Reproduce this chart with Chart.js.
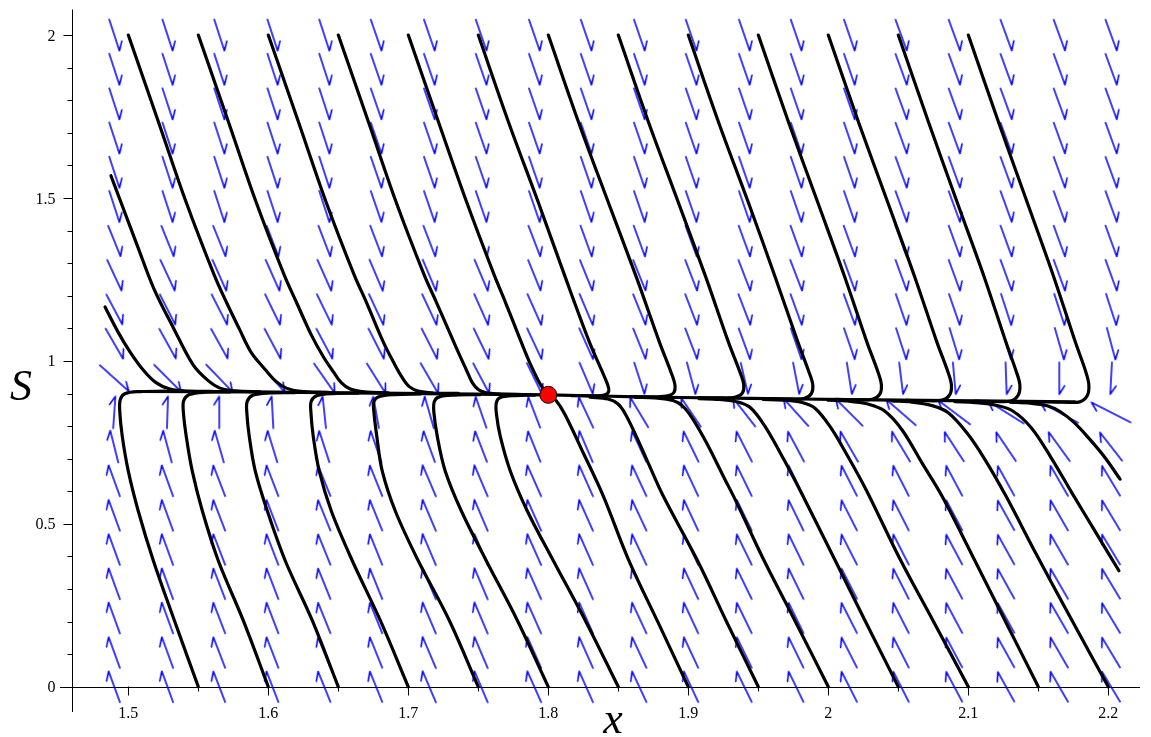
<!DOCTYPE html>
<html>
<head>
<meta charset="utf-8">
<script src="https://cdn.jsdelivr.net/npm/chart.js@4.4.1/dist/chart.umd.min.js"></script>
<style>
  html, body { margin: 0; padding: 0; background: #fff; }
  canvas { display: block; }
</style>
</head>
<body>
<canvas id="plot" width="1151" height="737"></canvas>
<script>
// axis ticks
const xMajorTicks = [1.5, 1.6, 1.7, 1.8, 1.9, 2.0, 2.1, 2.2];
const xTickLabels = ["1.5", "1.6", "1.7", "1.8", "1.9", "2", "2.1", "2.2"];
const xMinorTicks = [1.55, 1.65, 1.75, 1.85, 1.95, 2.05, 2.15];
const yMajorTicks = [0, 0.5, 1, 1.5, 2];
const yTickLabels = ["0", "0.5", "1", "1.5", "2"];
const yMinorTicks = [0.1, 0.2, 0.3, 0.4, 0.6, 0.7, 0.8, 0.9, 1.1, 1.2, 1.3, 1.4, 1.6, 1.7, 1.8, 1.9];
const yAxisAtX = 1.46;

// direction field grid
const arrowX = [1.490, 1.528, 1.565, 1.603, 1.640, 1.677, 1.715, 1.752, 1.790, 1.827,
                1.865, 1.902, 1.940, 1.977, 2.015, 2.052, 2.090, 2.127, 2.165, 2.202];
const arrowS = [0, 0.105, 0.211, 0.316, 0.421, 0.526, 0.632, 0.737, 0.842, 0.947,
                1.053, 1.158, 1.263, 1.368, 1.474, 1.579, 1.684, 1.789, 1.895, 2];
// arrow headings on screen, degrees (clockwise from +x)
const angleRows0to6 = [-110,-110,-111,-111,-112,-112,-113,-113,-114,-114,-115,-115,-116,-116,-117,-117,-118,-119,-120,-121];
const angleRow7 = [-104,-105,-106,-107,-108,-109,-110,-111,-112,-113,-115,-116,-117,-118,-120,-121,-123,-124,-126,-128];
const angleRow8 = [-86,-88,-90,-93,-96,-100,-106,-109,-111,-115,-121,-124,-128,-132,-135,-139,-143,-148,-151,-153];
const angleRow9 = [42,45,46,49,55,58,60,62,64,67,72,75,77,79,81,83,85,88,90,93];
const angleRow10 = [60,61,61,62,62,63,63,64,65,66,68,69,70,71,71,72,73,73,74,75];
const angleRow11 = [62,63,63,64,64,65,65,66,66,67,68,69,69,70,70,71,71,72,72,72];
const angleRow12 = [65,65,66,66,66,67,67,67,68,68,68,69,69,69,70,70,70,70,70,70];
const angleRow13 = [68,68,68,69,69,69,69,69,69,70,70,70,70,70,70,70,70,70,70,70];
const angleRows14to19 = [72,72,72,72,72,71,71,71,71,71,71,71,71,71,71,70,70,70,70,70];

// equilibrium
const eqX = 1.8;
const eqS = 0.896;

// slow line through the equilibrium
const lineLeft = [[1.5084,0.9062],[1.5869,0.905],[1.6584,0.9023],[1.7298,0.8989],[1.8,0.8959]];
const lineRight = [[1.8,0.8959],[1.8726,0.8892],[1.9441,0.8852],[2.0155,0.8815],[2.0869,0.8785],[2.1584,0.8754],[2.1762,0.8742]];

// trajectories coming down from above
const upperLeftA = [[1.4834,1.1655],[1.4926,1.0892],[1.5012,1.0281],[1.5105,0.9731],[1.5198,0.9334],[1.5298,0.9136],[1.5441,0.9072],[1.5619,0.9063]];
const upperLeftB = [[1.4876,1.5685],[1.4948,1.4861],[1.5069,1.3487],[1.5184,1.2205],[1.5326,1.0983],[1.5462,0.9884],[1.5562,0.9426],[1.5655,0.9166],[1.5769,0.9081],[1.5941,0.9053]];
const upper150 = [[1.5,2],[1.5218,1.7304],[1.5414,1.4861],[1.5614,1.2632],[1.57,1.1808],[1.5793,1.0983],[1.5875,1.0281],[1.5979,0.9731],[1.6057,0.9365],[1.6129,0.9166],[1.6229,0.9066],[1.6429,0.9035]];
const upper155 = [[1.55,2],[1.5718,1.7304],[1.5914,1.4861],[1.6114,1.2632],[1.62,1.1808],[1.6307,1.08],[1.6393,1.0128],[1.6464,0.967],[1.6521,0.9334],[1.6586,0.9136],[1.6686,0.905],[1.6857,0.9023]];
const upper160 = [[1.6,2],[1.6218,1.7304],[1.6414,1.4861],[1.6614,1.2632],[1.67,1.1808],[1.6821,1.0586],[1.69,0.9915],[1.6957,0.9487],[1.7007,0.9212],[1.7071,0.9075],[1.7179,0.9017],[1.7357,0.9002]];
const upper165 = [[1.65,2],[1.6718,1.7304],[1.6914,1.4861],[1.7114,1.2632],[1.72,1.1808],[1.7343,1.0403],[1.7414,0.9731],[1.7457,0.9334],[1.75,0.9121],[1.755,0.9029],[1.7643,0.8989],[1.7821,0.8971]];
const upper170 = [[1.7,2],[1.7218,1.7304],[1.7418,1.4861],[1.7614,1.2632],[1.7693,1.1808],[1.7786,1.08],[1.7864,0.9976],[1.7925,0.9426],[1.7968,0.9121],[1.8,0.8959]];
const upper175 = [[1.75,2],[1.7718,1.7304],[1.7929,1.4861],[1.8121,1.2571],[1.8293,1.0586],[1.8379,0.9731],[1.8421,0.9304],[1.8432,0.9075],[1.84,0.8953],[1.8307,0.8931],[1.8164,0.8937]];
const upper180 = [[1.8,2],[1.8218,1.7304],[1.8429,1.4861],[1.8629,1.2571],[1.8793,1.0586],[1.8875,0.967],[1.8904,0.9273],[1.8896,0.9029],[1.8843,0.8922],[1.8729,0.8895],[1.8586,0.8905]];
const upper185 = [[1.85,2],[1.8718,1.7304],[1.8929,1.4861],[1.9125,1.2571],[1.9286,1.0586],[1.9368,0.967],[1.9396,0.9273],[1.9386,0.9014],[1.9332,0.8885],[1.9218,0.8865],[1.9075,0.8873]];
const upper190 = [[1.9,2],[1.9218,1.7304],[1.9429,1.4861],[1.9621,1.2571],[1.9782,1.0586],[1.9861,0.967],[1.9889,0.9273],[1.9879,0.8998],[1.9825,0.8845],[1.9711,0.8831],[1.9568,0.8846]];
const upper195 = [[1.95,2],[1.9718,1.7304],[1.9925,1.4861],[2.0118,1.2571],[2.0275,1.0586],[2.0354,0.967],[2.0379,0.9273],[2.0368,0.8983],[2.0314,0.8825],[2.0196,0.8808],[2.0054,0.8818]];
const upper200 = [[2.0,2],[2.0218,1.7304],[2.0425,1.4861],[2.0618,1.2571],[2.0775,1.0586],[2.0854,0.967],[2.0879,0.9273],[2.0868,0.8968],[2.0814,0.88],[2.0696,0.8782],[2.0554,0.8791]];
const upper205 = [[2.05,2],[2.0718,1.7304],[2.0921,1.4861],[2.1114,1.2571],[2.1268,1.0586],[2.1343,0.967],[2.1368,0.9273],[2.1357,0.8953],[2.1304,0.8769],[2.1189,0.8756],[2.1046,0.8765]];
const upper210 = [[2.1,2],[2.1218,1.7304],[2.1421,1.4861],[2.1611,1.2571],[2.1764,1.0586],[2.1839,0.967],[2.1861,0.9273],[2.185,0.8937],[2.1796,0.8745],[2.1682,0.8738],[2.1539,0.8748]];

// trajectories rising from below
const lower155 = [[1.55,0],[1.5329,0.2037],[1.5179,0.3869],[1.5071,0.5396],[1.5,0.6617],[1.4957,0.7685],[1.4939,0.8449],[1.4943,0.8815],[1.4979,0.8998],[1.5084,0.906],[1.5262,0.9072]];
const lower160 = [[1.6,0],[1.5821,0.2037],[1.5643,0.3869],[1.5529,0.5396],[1.5457,0.6617],[1.5414,0.7685],[1.5393,0.8449],[1.5396,0.8785],[1.5436,0.8968],[1.5548,0.9041],[1.5726,0.9047]];
const lower165 = [[1.65,0],[1.6314,0.2037],[1.6121,0.3869],[1.5993,0.5396],[1.5907,0.6617],[1.5864,0.7685],[1.5846,0.8449],[1.585,0.8769],[1.5893,0.8953],[1.6012,0.902],[1.6191,0.9029]];
const lower170 = [[1.7,0],[1.68,0.2037],[1.66,0.3869],[1.645,0.5396],[1.6364,0.6617],[1.6321,0.7685],[1.6304,0.8449],[1.6307,0.8769],[1.635,0.8937],[1.6462,0.8998],[1.6641,0.9011]];
const lower175 = [[1.75,0],[1.7293,0.2037],[1.7071,0.3869],[1.6907,0.5396],[1.6814,0.6617],[1.6775,0.7685],[1.6754,0.8449],[1.6754,0.8754],[1.6793,0.8907],[1.6905,0.8968],[1.7084,0.8986]];
const lower180 = [[1.8,0],[1.7779,0.2037],[1.7557,0.3869],[1.7379,0.5396],[1.7264,0.6617],[1.7207,0.7685],[1.7182,0.8449],[1.7186,0.8754],[1.7221,0.8898],[1.7334,0.8953],[1.7512,0.8965]];
const lower185 = [[1.85,0],[1.8264,0.2037],[1.8036,0.3869],[1.785,0.5396],[1.7729,0.6617],[1.7657,0.7685],[1.7629,0.8388],[1.7629,0.8724],[1.7657,0.8876],[1.7762,0.8937],[1.7905,0.8953]];
const lower190 = [[1.9,0],[1.8784,0.1976],[1.8571,0.3921],[1.8393,0.5853],[1.825,0.7176],[1.8119,0.8357],[1.8055,0.8785],[1.8,0.8959]];
const lower195 = [[1.95,0],[1.9276,0.1976],[1.906,0.3921],[1.8821,0.5853],[1.8703,0.6974],[1.8612,0.7838],[1.8548,0.8388],[1.8498,0.8678],[1.8426,0.8831],[1.8298,0.8892]];
const lower200 = [[2.0,0],[1.9768,0.1976],[1.9536,0.3921],[1.9346,0.5649],[1.925,0.6464],[1.9131,0.7481],[1.9036,0.8195],[1.8964,0.8601],[1.8891,0.8785],[1.8762,0.8867],[1.8619,0.8889]];
const lower205 = [[2.05,0],[2.0269,0.1976],[2.0044,0.3921],[1.9819,0.5853],[1.9683,0.6974],[1.9548,0.7991],[1.9448,0.855],[1.9355,0.8739],[1.9219,0.8818],[1.9076,0.8843]];
const lower210 = [[2.1,0],[2.0755,0.1976],[2.0512,0.3921],[2.0269,0.6058],[2.0126,0.7176],[2.0012,0.7991],[1.9905,0.855],[1.9812,0.8724],[1.9676,0.88],[1.9534,0.8821]];
const lower215 = [[2.15,0],[2.1269,0.1976],[2.1041,0.3921],[2.0812,0.5853],[2.0669,0.687],[2.0526,0.789],[2.0398,0.8479],[2.0283,0.8678],[2.0141,0.877],[1.9998,0.8794]];
const lower220 = [[2.2,0],[2.1741,0.2037],[2.1484,0.4082],[2.1269,0.5853],[2.1119,0.6974],[2.0991,0.7786],[2.0855,0.8418],[2.074,0.8632],[2.0598,0.8739],[2.0455,0.8773]];
const lowerEdgeA = [[2.2076,0.3563],[2.1891,0.4876],[2.1741,0.5945],[2.159,0.7044],[2.1448,0.796],[2.1312,0.8479],[2.119,0.8647],[2.1048,0.8724],[2.0905,0.8748]];
const lowerEdgeB = [[2.2084,0.6373],[2.1969,0.7075],[2.1862,0.7624],[2.1755,0.8113],[2.1655,0.8449],[2.1569,0.8617],[2.144,0.8708],[2.1298,0.8739]];

const trajectories = [
  lineLeft, lineRight,
  upperLeftA, upperLeftB, upper150, upper155, upper160, upper165, upper170,
  upper175, upper180, upper185, upper190, upper195, upper200, upper205, upper210,
  lower155, lower160, lower165, lower170, lower175, lower180, lower185, lower190,
  lower195, lower200, lower205, lower210, lower215, lower220, lowerEdgeA, lowerEdgeB,
];

const angleTable = [
  angleRows0to6, angleRows0to6, angleRows0to6, angleRows0to6, angleRows0to6, angleRows0to6, angleRows0to6,
  angleRow7, angleRow8, angleRow9, angleRow10, angleRow11, angleRow12, angleRow13,
  angleRows14to19, angleRows14to19, angleRows14to19, angleRows14to19, angleRows14to19, angleRows14to19,
];

const arrowPoints = [];
arrowS.forEach((s, r) => {
  arrowX.forEach((x, c) => arrowPoints.push({ x, y: s, a: angleTable[r][c] }));
});

// arrows keep a fixed length in the plot's normalised box, so wide ones are longer on screen
function arrowLength(deg) {
  const t = (deg * Math.PI) / 180;
  const k = 0.646;
  return 32 / Math.sqrt(Math.cos(t) ** 2 * k * k + Math.sin(t) ** 2);
}

const arrowCache = new Map();
function arrowImage(len) {
  const key = Math.round(len);
  if (arrowCache.has(key)) return arrowCache.get(key);
  const size = key + 12 + (key % 2);
  const c = document.createElement("canvas");
  c.width = size;
  c.height = size;
  const g = c.getContext("2d");
  const mid = size / 2;
  const half = key / 2;
  const barb = Math.PI + (32 * Math.PI) / 180;
  g.strokeStyle = "#0000ff";
  g.lineWidth = 1.5;
  g.lineCap = "round";
  g.beginPath();
  g.moveTo(mid - half, mid);
  g.lineTo(mid + half, mid);
  g.moveTo(mid + half, mid);
  g.lineTo(mid + half + 10 * Math.cos(barb), mid + 10 * Math.sin(barb));
  g.stroke();
  arrowCache.set(key, c);
  return c;
}

const axesPlugin = {
  id: "plainAxes",
  beforeDatasetsDraw(chart) {
    const { ctx, chartArea } = chart;
    const xs = chart.scales.x;
    const ys = chart.scales.y;
    const x0 = Math.round(xs.getPixelForValue(yAxisAtX)) + 0.5;
    const y0 = Math.round(ys.getPixelForValue(0)) + 0.5;
    ctx.save();
    ctx.strokeStyle = "#000";
    ctx.lineWidth = 1;
    ctx.beginPath();
    ctx.moveTo(chartArea.left, y0);
    ctx.lineTo(chartArea.right, y0);
    ctx.moveTo(x0, chartArea.top);
    ctx.lineTo(x0, chartArea.bottom);
    for (const v of xMinorTicks) {
      const px = Math.round(xs.getPixelForValue(v)) + 0.5;
      ctx.moveTo(px, y0);
      ctx.lineTo(px, y0 + 4);
    }
    for (const v of xMajorTicks) {
      const px = Math.round(xs.getPixelForValue(v)) + 0.5;
      ctx.moveTo(px, y0 - 1);
      ctx.lineTo(px, y0 + 8);
    }
    for (const v of yMinorTicks) {
      const py = Math.round(ys.getPixelForValue(v)) + 0.5;
      ctx.moveTo(x0 - 5, py);
      ctx.lineTo(x0, py);
    }
    for (const v of yMajorTicks) {
      const py = Math.round(ys.getPixelForValue(v)) + 0.5;
      ctx.moveTo(x0 - 9, py);
      ctx.lineTo(x0, py);
    }
    ctx.stroke();

    ctx.fillStyle = "#000";
    ctx.font = "16px 'Liberation Serif', 'Times New Roman', serif";
    ctx.textBaseline = "alphabetic";
    ctx.textAlign = "center";
    xMajorTicks.forEach((v, i) => ctx.fillText(xTickLabels[i], xs.getPixelForValue(v), y0 + 30));
    ctx.textAlign = "right";
    yMajorTicks.forEach((v, i) => ctx.fillText(yTickLabels[i], x0 - 17, ys.getPixelForValue(v) + 5.5));

    ctx.font = "italic 44px 'Liberation Serif', 'Times New Roman', serif";
    ctx.textAlign = "center";
    ctx.fillText("x", 613, 733);
    ctx.fillText("S", 21, 400);
    ctx.restore();
  },
};

const datasets = [
  {
    label: "field",
    data: arrowPoints,
    order: 5,
    showLine: false,
    pointRadius: 2,
    pointStyle: (ctx) => (ctx.raw ? arrowImage(arrowLength(ctx.raw.a)) : "circle"),
    rotation: (ctx) => (ctx.raw ? ctx.raw.a : 0),
  },
  ...trajectories.map((pts, i) => ({
    label: "traj" + i,
    data: pts.map(([x, s]) => ({ x, y: s })),
    order: 2,
    showLine: true,
    borderColor: "#000",
    borderWidth: 3.2,
    borderCapStyle: "round",
    borderJoinStyle: "round",
    tension: 0.35,
    pointRadius: 0,
    fill: false,
  })),
  {
    label: "equilibrium",
    data: [{ x: eqX, y: eqS }],
    order: 0,
    showLine: false,
    pointRadius: 8.5,
    pointBackgroundColor: "#ff0000",
    pointBorderColor: "#000",
    pointBorderWidth: 1,
  },
];

new Chart(document.getElementById("plot"), {
  type: "scatter",
  data: { datasets },
  options: {
    responsive: false,
    animation: false,
    events: [],
    layout: { padding: { left: 60, right: 11, top: 6, bottom: 25 } },
    plugins: { legend: { display: false }, tooltip: { enabled: false } },
    scales: {
      x: { type: "linear", min: 1.45121, max: 2.22264, display: false },
      y: { type: "linear", min: -0.07725, max: 2.07847, display: false },
    },
  },
  plugins: [axesPlugin],
});
</script>
</body>
</html>
